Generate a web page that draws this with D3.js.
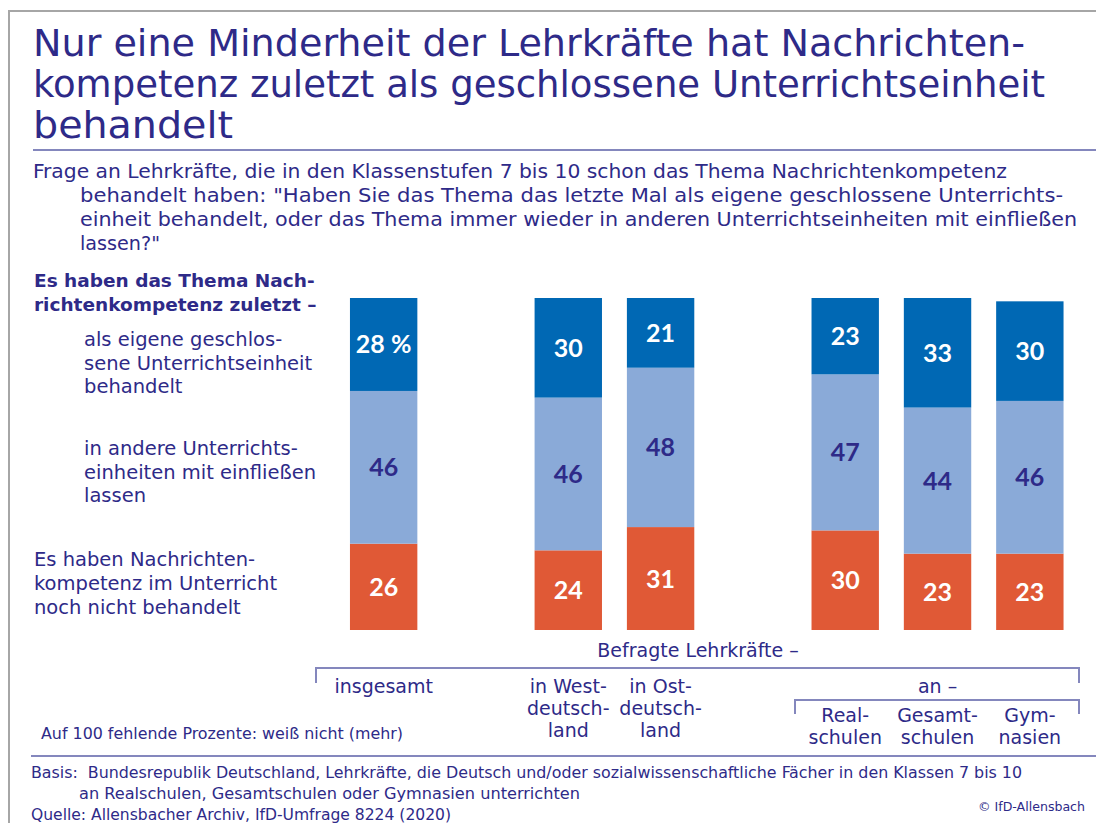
<!DOCTYPE html>
<html lang="de">
<head>
<meta charset="utf-8">
<script src="https://cdn.jsdelivr.net/npm/d3@7"></script>
<style>
  html, body { margin: 0; padding: 0; background: #fff; }
  svg { display: block; }
</style>
</head>
<body>
<div id="chart"></div>
<script>
// ---- data ----
const categories = ["insgesamt", "West", "Ost", "Real", "Gesamt", "Gym"];
const slots = ["insgesamt", "gap1", "West", "Ost", "gap2", "Real", "Gesamt", "Gym"];
const geschlossen    = [28, 30, 21, 23, 33, 30];
const einfliessen    = [46, 46, 48, 47, 44, 46];
const nichtBehandelt = [26, 24, 31, 30, 23, 23];
const categoryLines = [
  ["insgesamt"],
  ["in West-", "deutsch-", "land"],
  ["in Ost-", "deutsch-", "land"],
  ["Real-", "schulen"],
  ["Gesamt-", "schulen"],
  ["Gym-", "nasien"]
];
const titleLines = [
  "Nur eine Minderheit der Lehrkräfte hat Nachrichten-",
  "kompetenz zuletzt als geschlossene Unterrichtseinheit",
  "behandelt"
];
const questionLines = [
  "Frage an Lehrkräfte, die in den Klassenstufen 7 bis 10 schon das Thema Nachrichtenkompetenz",
  "behandelt haben: \"Haben Sie das Thema das letzte Mal als eigene geschlossene Unterrichts-",
  "einheit behandelt, oder das Thema immer wieder in anderen Unterrichtseinheiten mit einfließen",
  "lassen?\""
];
const legendHeading = ["Es haben das Thema Nach-", "richtenkompetenz zuletzt –"];
const legendGeschlossen = ["als eigene geschlos-", "sene Unterrichtseinheit", "behandelt"];
const legendEinfliessen = ["in andere Unterrichts-", "einheiten mit einfließen", "lassen"];
const legendNicht = ["Es haben Nachrichten-", "kompetenz im Unterricht", "noch nicht behandelt"];
const groupLabel = "Befragte Lehrkräfte –";
const schoolLabel = "an –";
const noteText = "Auf 100 fehlende Prozente: weiß nicht (mehr)";
const basisLines = [
  "Basis:  Bundesrepublik Deutschland, Lehrkräfte, die Deutsch und/oder sozialwissenschaftliche Fächer in den Klassen 7 bis 10",
  "an Realschulen, Gesamtschulen oder Gymnasien unterrichten"
];
const sourceText = "Quelle: Allensbacher Archiv, IfD-Umfrage 8224 (2020)";
const copyrightText = "© IfD-Allensbach";

// ---- styles ----
const W = 1096, H = 823;
const INK = "#2e2a88";
const C_DARK = "#0068b4", C_LIGHT = "#8aaad8", C_RED = "#e05936";
const RULE = "#8487bd";
const NARROW = "'DejaVu Sans Condensed', 'DejaVu Sans', sans-serif";
const WIDE = "'DejaVu Sans', sans-serif";
const NUM = "Lato, 'DejaVu Sans', sans-serif";

const svg = d3.select("#chart").append("svg")
  .attr("width", W).attr("height", H);

// text helper; optional width squeezes the line to that length
function line(g, str, x, y, o = {}) {
  const t = g.append("text")
    .attr("x", x).attr("y", y)
    .attr("fill", o.fill || INK)
    .attr("font-family", o.family || NARROW)
    .attr("font-size", o.size || 18)
    .attr("font-weight", o.weight || "normal")
    .attr("text-anchor", o.anchor || "start")
    .style("white-space", "pre")
    .text(str);
  if (o.width) t.attr("textLength", o.width).attr("lengthAdjust", "spacingAndGlyphs");
  return t;
}

// ---- frame ----
svg.append("path")
  .attr("d", `M9,${H} V11 H${W}`)
  .attr("fill", "none").attr("stroke", "#a6a6a6").attr("stroke-width", 2);

// ---- title ----
const gTitle = svg.append("g");
const titleWidths = [992, 1012, 200];
titleLines.forEach((s, i) => line(gTitle, s, 33, 56 + i * 41, { size: 38, width: titleWidths[i] }));
svg.append("line").attr("x1", 33).attr("x2", W).attr("y1", 150).attr("y2", 150)
  .attr("stroke", RULE).attr("stroke-width", 2);

// ---- question ----
const gQ = svg.append("g");
const qWidths = [974, 983, 997, 80];
questionLines.forEach((s, i) => line(gQ, s, i === 0 ? 33 : 80, 178 + i * 24, { size: 19, width: qWidths[i] }));

// ---- scales ----
const x = d3.scaleBand().domain(slots).range([337.5, 1076]).paddingInner(0.27).paddingOuter(0.135);
const y = d3.scaleLinear().domain([0, 100]).range([630, 298]);

const rows = categories.map((c, i) => ({
  cat: c,
  nicht: nichtBehandelt[i],
  einfl: einfliessen[i],
  geschl: geschlossen[i]
}));
const keys = ["nicht", "einfl", "geschl"];
const colors = { nicht: C_RED, einfl: C_LIGHT, geschl: C_DARK };
const labelFill = { nicht: "#fff", einfl: INK, geschl: "#fff" };
const series = d3.stack().keys(keys)(rows);

const gBars = svg.append("g");
series.forEach(s => {
  const g = gBars.append("g");
  g.selectAll("rect").data(s).join("rect")
    .attr("x", d => x(d.data.cat))
    .attr("width", x.bandwidth())
    .attr("y", d => y(d[1]))
    .attr("height", d => y(d[0]) - y(d[1]))
    .attr("fill", colors[s.key]);
  g.selectAll("text").data(s).join("text")
    .attr("x", d => x(d.data.cat) + x.bandwidth() / 2)
    .attr("y", d => (y(d[0]) + y(d[1])) / 2)
    .attr("dy", "0.36em")
    .attr("text-anchor", "middle")
    .attr("font-family", NUM)
    .attr("font-weight", "bold")
    .attr("font-size", 25)
    .attr("fill", labelFill[s.key])
    .text((d, i) => (s.key === "geschl" && i === 0) ? `${d.data[s.key]} %` : d.data[s.key]);
});

// ---- legend on the left ----
const gLeg = svg.append("g");
legendHeading.forEach((s, i) => line(gLeg, s, 34, 287 + i * 24, { size: 18.5, weight: "bold", family: WIDE }));
legendGeschlossen.forEach((s, i) => line(gLeg, s, 84, 346 + i * 23.5, { size: 19.5, family: WIDE }));
legendEinfliessen.forEach((s, i) => line(gLeg, s, 84, 455 + i * 23.5, { size: 19.5, family: WIDE }));
legendNicht.forEach((s, i) => line(gLeg, s, 34, 566 + i * 24, { size: 19.5, family: WIDE }));

// ---- category axis ----
const gAx = svg.append("g");
line(gAx, groupLabel, 698, 657, { size: 19, anchor: "middle", family: WIDE });
gAx.append("path")
  .attr("d", "M316,683 V668 H1079 V683")
  .attr("fill", "none").attr("stroke", RULE).attr("stroke-width", 2);
line(gAx, schoolLabel, (x("Real") + x("Gym") + x.bandwidth()) / 2, 693, { size: 19, anchor: "middle", family: WIDE });
gAx.append("path")
  .attr("d", "M795,714 V700 H1079 V714")
  .attr("fill", "none").attr("stroke", RULE).attr("stroke-width", 2);
categoryLines.forEach((lines, i) => {
  const cx = x(categories[i]) + x.bandwidth() / 2;
  const y0 = lines.length === 2 ? 722 : 693;
  lines.forEach((s, j) => line(gAx, s, cx, y0 + j * 22, { size: 19, anchor: "middle", family: WIDE }));
});

// ---- notes & footer ----
const gF = svg.append("g");
line(gF, noteText, 41, 739, { size: 16, width: 362 });
gF.append("line").attr("x1", 31).attr("x2", W).attr("y1", 756).attr("y2", 756)
  .attr("stroke", RULE).attr("stroke-width", 2);
line(gF, basisLines[0], 31, 778, { size: 16, width: 991 });
line(gF, basisLines[1], 79, 799, { size: 16, width: 501 });
line(gF, sourceText, 31, 820, { size: 16, width: 420 });
line(gF, copyrightText, 1085, 811, { size: 13, anchor: "end", width: 107 });
</script>
</body>
</html>
